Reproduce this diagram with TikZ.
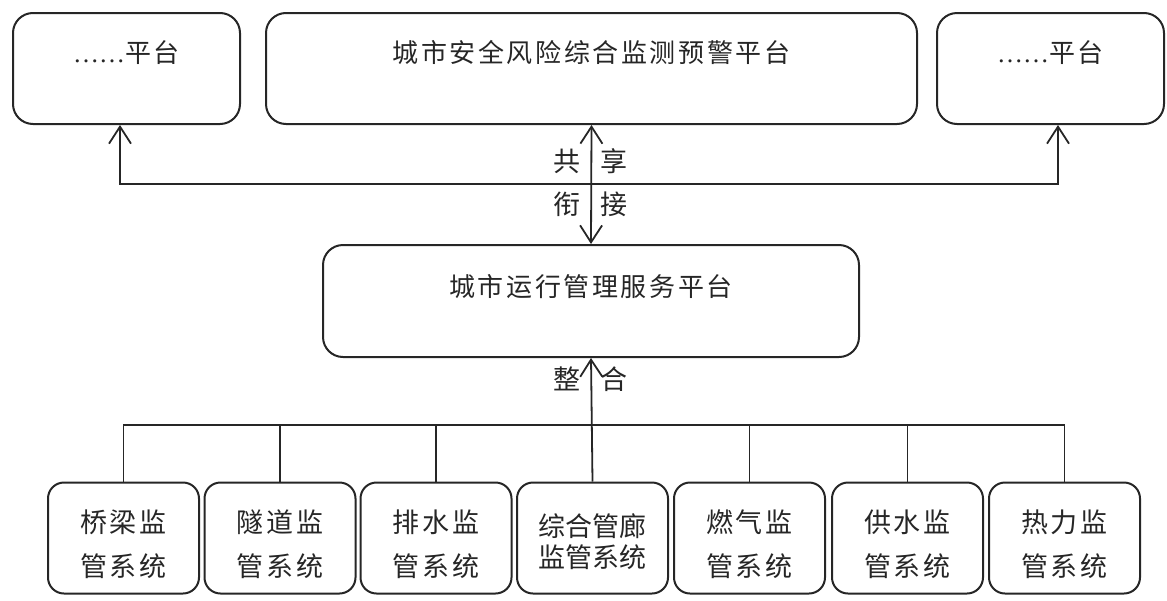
\documentclass[tikz,border=0pt]{standalone}
\usepackage{fontspec}
\setmainfont{Liberation Serif}
\newfontfamily\cjk{Noto Sans CJK SC}
\newfontfamily\cjksp[LetterSpace=10]{Noto Sans CJK SC}
\usetikzlibrary{arrows.meta}
\begin{document}
\begin{tikzpicture}[x=1pt,y=-1pt,
  bigbox/.style={draw=black!85, line width=2pt, rounded corners=20pt, inner sep=0pt},
  smallbox/.style={draw=black!85, line width=2pt, rounded corners=16pt, inner sep=0pt,
    minimum width=151pt, minimum height=111pt},
  wire/.style={draw=black!85, line width=1.8pt},
  barb/.tip={Straight Barb[length=17pt,width=22pt]},
  toptxt/.style={text=black!85, inner sep=0pt, font=\cjksp\fontsize{26}{30}\selectfont},
  sidetxt/.style={text=black!85, inner sep=0pt, font=\cjk\fontsize{27}{30}\selectfont},
  bottxt/.style={text=black!85, inner sep=0pt, align=center, font=\cjksp\fontsize{27}{44}\selectfont},
]
\useasboundingbox (0,0) rectangle (1167,600);

% top row
\node[bigbox, minimum width=227pt, minimum height=111pt] (L) at (126.5,68.5) {};
\node[bigbox, minimum width=651pt, minimum height=111pt] (T) at (591.5,68.5) {};
\node[bigbox, minimum width=227pt, minimum height=111pt] (R) at (1050.5,68.5) {};
\node[toptxt] (Lt) at (126.5,53) {{\rmfamily ……}平台};
\node[toptxt] (Tt) at (591.5,53) {城市安全风险综合监测预警平台};
\node[toptxt] (Rt) at (1050.5,53) {{\rmfamily ……}平台};

% middle
\node[bigbox, minimum width=536pt, minimum height=112pt] (M) at (591,301) {};
\node[toptxt] (Mt) at (591,287) {城市运行管理服务平台};

% connectors top
\coordinate (jl) at (120,184);
\coordinate (jr) at (1058,184);
\draw[wire, barb-barb] (jl |- L.south) -- (jl) -- (jr) -- (jr |- R.south);
\draw[wire, barb-barb] (T.south) -- (M.north);
\node[sidetxt] (s1) at (567,161) {共};
\node[sidetxt] (s2) at (614,161) {享};
\node[sidetxt] (s3) at (567,204) {衔};
\node[sidetxt] (s4) at (614,204) {接};

% bottom boxes
\foreach \i/\x in {1/123.5,2/280,3/436,4/592.5,5/749.5,6/907.5,7/1064.5}{
  \node[smallbox] (b\i) at (\x,538) {};
}
\node[bottxt] (b1t) at (b1.center) [yshift=-6pt] {桥梁监\\管系统};
\node[bottxt] (b2t) at (b2.center) [yshift=-6pt] {隧道监\\管系统};
\node[bottxt] (b3t) at (b3.center) [yshift=-6pt] {排水监\\管系统};
\node[bottxt, font=\cjk\fontsize{27}{31}\selectfont] (b4t) at (b4.center) [yshift=-4pt] {综合管廊\\监管系统};
\node[bottxt] (b5t) at (b5.center) [yshift=-6pt] {燃气监\\管系统};
\node[bottxt] (b6t) at (b6.center) [yshift=-6pt] {供水监\\管系统};
\node[bottxt] (b7t) at (b7.center) [yshift=-6pt] {热力监\\管系统};

% bus
\coordinate (bus) at (592,425);
\draw[wire] (b1.north) -- (b1.north |- bus) -- (b7.north |- bus) -- (b7.north);
\foreach \i in {2,3,5,6}{
  \draw[wire] (b\i.north) -- (b\i.north |- bus);
}
\draw[wire, -barb] (b4.north) -- (M.south);
\node[sidetxt] (z1) at (567,379) {整};
\node[sidetxt] (z2) at (614,379) {合};
\end{tikzpicture}
\end{document}
